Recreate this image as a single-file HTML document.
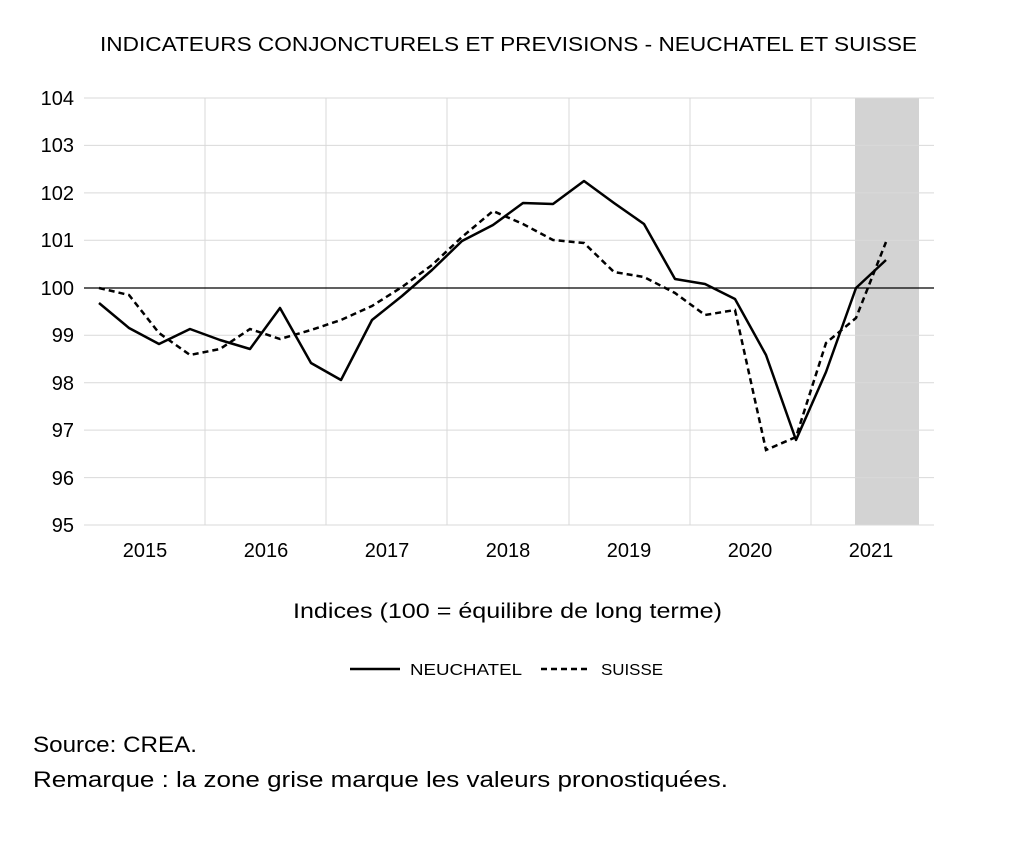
<!DOCTYPE html>
<html><head><meta charset="utf-8"><style>
body{margin:0;background:#fff;}
svg text{font-family:"Liberation Sans",sans-serif;fill:#000;}
</style></head><body>
<svg width="1024" height="836" xmlns="http://www.w3.org/2000/svg">
<rect width="1024" height="836" fill="#fff"/>
<text x="100" y="51" font-size="20" textLength="817" lengthAdjust="spacingAndGlyphs">INDICATEURS CONJONCTURELS ET PREVISIONS  - NEUCHATEL ET SUISSE</text>
<rect x="855" y="98" width="64" height="427" fill="#d3d3d3"/>
<g stroke="#d9d9d9" stroke-width="1">
<line x1="84" y1="98" x2="934" y2="98"/><line x1="84" y1="145.4" x2="934" y2="145.4"/>
<line x1="84" y1="192.9" x2="934" y2="192.9"/><line x1="84" y1="240.3" x2="934" y2="240.3"/>
<line x1="84" y1="335.2" x2="934" y2="335.2"/><line x1="84" y1="382.7" x2="934" y2="382.7"/>
<line x1="84" y1="430.1" x2="934" y2="430.1"/><line x1="84" y1="477.6" x2="934" y2="477.6"/>
<line x1="84" y1="525" x2="934" y2="525"/>
<line x1="205" y1="98" x2="205" y2="525"/><line x1="326" y1="98" x2="326" y2="525"/>
<line x1="447" y1="98" x2="447" y2="525"/><line x1="569" y1="98" x2="569" y2="525"/>
<line x1="690" y1="98" x2="690" y2="525"/><line x1="811" y1="98" x2="811" y2="525"/>
</g>
<line x1="84" y1="288" x2="934" y2="288" stroke="#000" stroke-width="1.2"/>
<g font-size="20" text-anchor="end">
<text x="74" y="105">104</text><text x="74" y="152">103</text><text x="74" y="200">102</text>
<text x="74" y="247">101</text><text x="74" y="295">100</text><text x="74" y="342">99</text>
<text x="74" y="390">98</text><text x="74" y="437">97</text><text x="74" y="485">96</text>
<text x="74" y="532">95</text>
</g>
<g font-size="20" text-anchor="middle">
<text x="145" y="557">2015</text><text x="266" y="557">2016</text><text x="387" y="557">2017</text>
<text x="508" y="557">2018</text><text x="629" y="557">2019</text><text x="750" y="557">2020</text>
<text x="871" y="557">2021</text>
</g>
<polyline fill="none" stroke="#000" stroke-width="2.5" stroke-linejoin="round" points="99,303 129,328 159,344 190,329 220,340 250,349 280,308 311,363 341,380 372,320 402,296 432,270 462,241 493,225 523,203 553,204 584,181 614,203 644,224 675,279 705,284 735,299 766,355 796,440 826,372 856,288 886,260"/>
<polyline fill="none" stroke="#000" stroke-width="2.5" stroke-dasharray="6,4" points="99,288 129,295 159,333 190,355 220,349 250,329 280,339 311,330 341,320 372,306 402,287 432,265 462,237 493,211 523,224 553,240 584,243 614,272 644,277 675,293 705,315 735,310 766,450 796,437 826,343 856,318 886,242"/>
<text x="293" y="618" font-size="21" textLength="429" lengthAdjust="spacingAndGlyphs">Indices (100 = équilibre de long terme)</text>
<line x1="350" y1="669" x2="400" y2="669" stroke="#000" stroke-width="2.5"/>
<text x="410" y="675" font-size="16" textLength="112" lengthAdjust="spacingAndGlyphs">NEUCHATEL</text>
<line x1="541" y1="669" x2="591" y2="669" stroke="#000" stroke-width="2.5" stroke-dasharray="6,4"/>
<text x="601" y="675" font-size="16" textLength="62" lengthAdjust="spacingAndGlyphs">SUISSE</text>
<text x="33" y="752" font-size="22" fill="#222" textLength="164" lengthAdjust="spacingAndGlyphs">Source: CREA.</text>
<text x="33" y="787" font-size="22" fill="#222" textLength="695" lengthAdjust="spacingAndGlyphs">Remarque : la zone grise marque les valeurs pronostiquées.</text>
</svg>
</body></html>
